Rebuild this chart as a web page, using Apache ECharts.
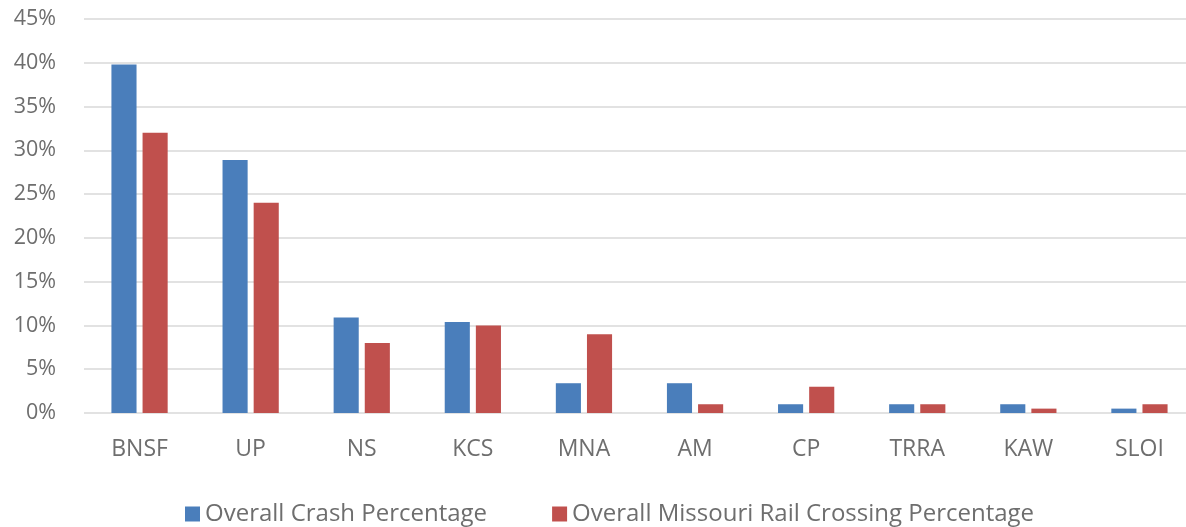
<!DOCTYPE html>
<html>
<head>
<meta charset="utf-8">
<script src="https://cdn.jsdelivr.net/npm/echarts@6/dist/echarts.min.js"></script>
<style>
  html, body { margin: 0; padding: 0; background: #fff; }
  #chart { width: 1186px; height: 527px; }
</style>
</head>
<body>
<div id="chart"></div>
<script>
const categories = ['BNSF', 'UP', 'NS', 'KCS', 'MNA', 'AM', 'CP', 'TRRA', 'KAW', 'SLOI'];
const crashPct = [39.8, 28.9, 10.9, 10.4, 3.4, 3.4, 1.0, 1.0, 1.0, 0.5];
const crossingPct = [32.0, 24.0, 8.0, 10.0, 9.0, 1.0, 3.0, 1.0, 0.5, 1.0];

const textColor = '#6e6e6e';
const fontFamily = '"Open Sans", sans-serif';

let myChart = echarts.init(document.getElementById('chart'));
let option = {
  animation: false,
  color: ['#4a7ebb', '#c0504d'],
  textStyle: { fontFamily: fontFamily },
  grid: {
    left: 84,
    width: 1111,
    top: 19,
    bottom: 114,
    outerBoundsMode: 'none'
  },
  legend: {
    top: 497,
    left: 180,
    itemWidth: 15,
    itemHeight: 15,
    itemGap: 65,
    icon: 'rect',
    textStyle: { fontSize: 24, color: textColor, fontFamily: fontFamily },
    data: ['Overall Crash Percentage', 'Overall Missouri Rail Crossing Percentage']
  },
  xAxis: {
    type: 'category',
    data: categories,
    axisLine: { show: false },
    axisTick: { show: false },
    axisLabel: { fontSize: 23, color: textColor, margin: 25 }
  },
  yAxis: {
    type: 'value',
    min: 0,
    max: 45,
    interval: 5,
    axisLine: { show: false },
    axisTick: { show: false },
    axisLabel: { fontSize: 21.5, color: textColor, margin: 28, formatter: '{value}%' },
    splitLine: { lineStyle: { color: '#d9d9d9', width: 1.5 } }
  },
  series: [
    {
      name: 'Overall Crash Percentage',
      type: 'bar',
      data: crashPct,
      barWidth: '22.6%',
      barGap: '24%'
    },
    {
      name: 'Overall Missouri Rail Crossing Percentage',
      type: 'bar',
      data: crossingPct,
      barWidth: '22.6%',
      barGap: '24%'
    }
  ]
};
myChart.setOption(option);
</script>
</body>
</html>
